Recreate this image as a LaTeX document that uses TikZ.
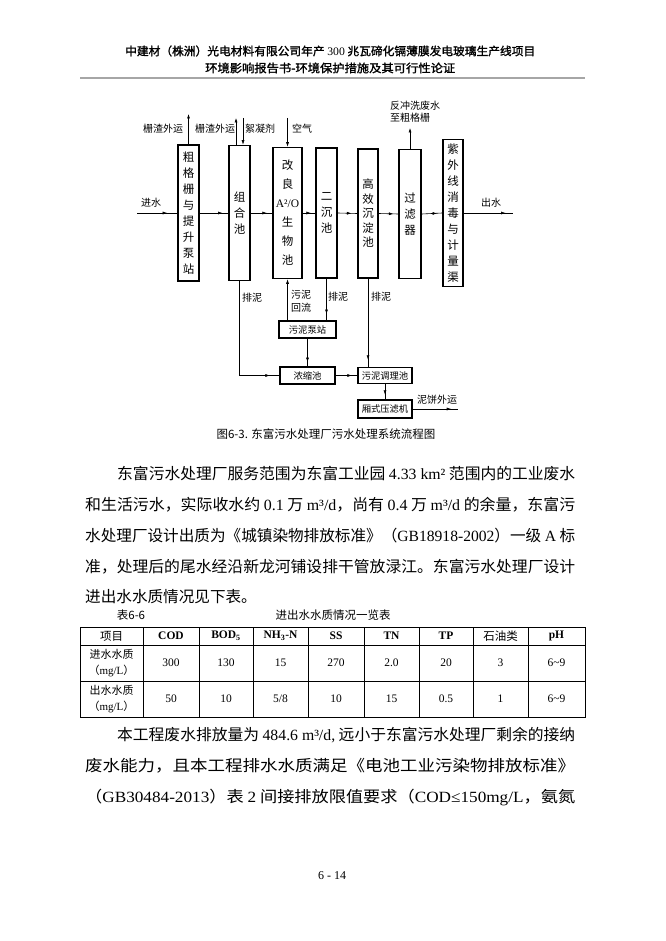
\documentclass[tikz,border=0pt]{standalone}
\usepackage{graphicx}
\usepackage{fontspec}
\setmainfont{Liberation Serif}
\newfontfamily\cjk{Noto Sans CJK SC}
\newfontfamily\cjkb{Noto Sans CJK SC}[FakeBold=1.5]
\usetikzlibrary{arrows.meta,decorations.markings}
\newsavebox\fitbox
\newcommand\fitline[2]{\sbox\fitbox{#2}\pgfmathsetmacro\fitratio{#1/\the\wd\fitbox}\scalebox{\fitratio}[1]{\usebox\fitbox}}
\newcommand\La[1]{{\rmfamily #1}}
\newcommand\bodyfont{\cjk\fontsize{15.6}{18}\selectfont}
\newcommand\dfont{\cjk\fontsize{11.5}{16}\selectfont}
\newcommand\lfont{\cjk\fontsize{10}{13}\selectfont}
\tikzset{
  procbox/.style={draw, line width=1.5pt, inner sep=0pt, align=center, font=\dfont},
  sbox/.style={draw, line width=1.4pt, inner sep=0pt, font=\cjk\fontsize{9.3}{12}\selectfont},
  conn/.style={line width=0.6pt},
  tip/.style={conn, -{Latex[length=4.5pt,width=3pt]}},
  midarrow/.style={conn, postaction={decorate}, decoration={markings, mark=at position #1 with {\arrow{Latex[length=4.5pt,width=3pt]}}}},
  midarrow/.default=0.75,
  lbl/.style={inner sep=0pt, font=\lfont, align=center},
  hdr/.style={anchor=west, inner sep=0pt, font=\cjkb\fontsize{11.5}{13}\selectfont},
  bodyline/.style={anchor=west, inner sep=0pt, font=\bodyfont},
  tcell/.style={inner sep=0pt, align=center, font=\rmfamily\fontsize{11.5}{16}\selectfont},
  tgrid/.style={line width=0.6pt},
}
\begin{document}
\begin{tikzpicture}[x=1pt,y=-1pt]
\useasboundingbox[fill=white] (0,0) rectangle (665,941);

% ---------- page header ----------
\node[hdr] (h1) at (125,51) {\fitline{410}{中建材（株洲）光电材料有限公司年产 \La{300} 兆瓦碲化镉薄膜发电玻璃生产线项目}};
\node[hdr] (h2) at (205,68) {\fitline{250}{环境影响报告书-环境保护措施及其可行性论证}};
\draw[line width=2pt, gray!70] (80,78) -- (585,78);

% ---------- flow chart: main boxes ----------
\node[procbox, minimum width=21pt, minimum height=136pt] (b1) at (188.5,213) {粗\\格\\栅\\与\\提\\升\\泵\\站};
\node[procbox, minimum width=21pt, minimum height=135pt] (b2) at (239.5,213) {组\\合\\池};
\node[procbox, minimum width=29pt, minimum height=131pt, font=\cjk\fontsize{11.5}{19}\selectfont] (b3) at (287.5,213) {改\\良\\\La{A²/O}\\生\\物\\池};
\node[procbox, minimum width=21pt, minimum height=130pt] (b4) at (326.5,213) {二\\沉\\池};
\node[procbox, minimum width=20pt, minimum height=129pt, font=\cjk\fontsize{11.5}{14.5}\selectfont] (b5) at (368,213.5) {高\\效\\沉\\淀\\池};
\node[procbox, minimum width=22pt, minimum height=129pt] (b6) at (410,214) {过\\滤\\器};
\node[procbox, minimum width=20pt, minimum height=147pt] (b7) at (453,213) {紫\\外\\线\\消\\毒\\与\\计\\量\\渠};

% main flow line
\coordinate (inw) at (137,213);
\coordinate (outw) at (513,213);
\draw[midarrow=0.75] (inw) -- (b1.west);
\draw[midarrow=0.8] (b1.east) -- (b2.west);
\draw[midarrow=0.75] (b2.east) -- (b3.west);
\draw[midarrow=0.65] (b3.east) -- (b4.west);
\draw[midarrow=0.7] (b4.east) -- (b5.west);
\draw[midarrow=0.75] (b5.east) -- (b6.west);
\draw[midarrow=0.75] (b6.east) -- (b7.west);
\draw[midarrow=0.85] (b7.east) -- (outw);
\node[lbl] (lin) at (151,203) {进水};
\node[lbl] (lout) at (491,203) {出水};

% top arrows
\coordinate (s1) at (188.5,114);
\coordinate (s2) at (236,118);
\coordinate (fl) at (243,118);
\coordinate (air) at (287.5,118);
\coordinate (bw) at (410,128);
\draw[tip] (b1.north) -- (s1);
\draw[tip] (s2 |- b2.north) -- (s2);
\draw[tip] (fl) -- (fl |- b2.north);
\draw[tip] (air) -- (b3.north);
\draw[tip] (b6.north) -- (bw);
\node[lbl] (l1) at (163,129) {栅渣外运};
\node[lbl] (l2) at (215,129) {栅渣外运};
\node[lbl] (l3) at (260,129) {絮凝剂};
\node[lbl] (l4) at (302,129) {空气};
\node[lbl, align=left, anchor=north west, font=\cjk\fontsize{10}{12}\selectfont] (l5) at (390,101) {反冲洗废水\\至粗格栅};

% ---------- sludge treatment ----------
\node[sbox, minimum width=57pt, minimum height=17pt] (pump) at (307.5,329.5) {污泥泵站};
\node[sbox, minimum width=55pt, minimum height=17pt] (thick) at (307.5,375.5) {浓缩池};
\node[sbox, minimum width=54pt, minimum height=16pt] (cond) at (385,375.5) {污泥调理池};
\node[sbox, minimum width=54pt, minimum height=18pt] (press) at (385,409) {厢式压滤机};
\coordinate (cake) at (458,409);

\draw[midarrow=0.93] (b2.south) |- (thick.west);
\draw[tip] (b3.south |- pump.north) -- (b3.south);
\draw[midarrow=0.85] (b4.south) -- (b4.south |- pump.north);
\draw[midarrow=0.92] (b5.south) -- (b5.south |- cond.north);
\draw[midarrow=0.85] (pump.south) -- (thick.north);
\draw[midarrow=0.75] (thick.east) -- (thick.east -| cond.west);
\draw[midarrow=0.7] (cond.south) -- (press.north);
\draw[midarrow=0.85] (press.east) -- (cake);

\node[lbl] (p1) at (252,298) {排泥};
\node[lbl] (p2) at (301,301) {污泥\\回流};
\node[lbl] (p3) at (338,297) {排泥};
\node[lbl] (p4) at (381,297) {排泥};
\node[lbl] (p5) at (437,400) {泥饼外运};

% caption
\node[inner sep=0pt, font=\cjk\fontsize{11.5}{13}\selectfont] (cap) at (326,434) {图6-3. 东富污水处理厂污水处理系统流程图};

% ---------- body text ----------
\node[bodyline] (t1) at (117,474) {\fitline{458}{东富污水处理厂服务范围为东富工业园 \La{4.33 km²} 范围内的工业废水}};
\node[bodyline] (t2) at (85,505) {\fitline{490}{和生活污水，实际收水约 \La{0.1} 万 \La{m³/d}，尚有 \La{0.4} 万 \La{m³/d} 的余量，东富污}};
\node[bodyline] (t3) at (85,536) {\fitline{490}{水处理厂设计出质为《城镇染物排放标准》（\La{GB18918-2002}）一级 \La{A} 标}};
\node[bodyline] (t4) at (85,567) {\fitline{490}{准，处理后的尾水经沿新龙河铺设排干管放渌江。东富污水处理厂设计}};
\node[bodyline] (t5) at (85,597) {进出水水质情况见下表。};

% ---------- table ----------
\node[inner sep=0pt, font=\cjk\fontsize{11.5}{13}\selectfont] (tno) at (131,615) {表6-6};
\node[inner sep=0pt, font=\cjk\fontsize{11.5}{13}\selectfont] (ttl) at (333,615) {进出水水质情况一览表};
\draw[line width=0.9pt] (80,627) rectangle (585,717);
\draw[tgrid] (80,645) -- (585,645);
\draw[tgrid] (80,681) -- (585,681);
\foreach \cx in {143,199,253,308,364,419,473,528} \draw[tgrid] (\cx,627) -- (\cx,717);

\node[tcell] (c11) at (111.5,636) {\cjk 项目};
\node[tcell] (c12) at (171,636) {\textbf{COD}};
\node[tcell] (c13) at (226,636) {\textbf{BOD\textsubscript{5}}};
\node[tcell] (c14) at (280.5,636) {\textbf{NH\textsubscript{3}-N}};
\node[tcell] (c15) at (336,636) {\textbf{SS}};
\node[tcell] (c16) at (391.5,636) {\textbf{TN}};
\node[tcell] (c17) at (446,636) {\textbf{TP}};
\node[tcell] (c18) at (500.5,636) {\cjk 石油类};
\node[tcell] (c19) at (556.5,636) {\textbf{pH}};

\node[tcell, font=\cjk\fontsize{11}{16}\selectfont] (c21) at (111.5,663) {进水水质\\（\La{mg/L}）};
\node[tcell] (c22) at (171,663) {300};
\node[tcell] (c23) at (226,663) {130};
\node[tcell] (c24) at (280.5,663) {15};
\node[tcell] (c25) at (336,663) {270};
\node[tcell] (c26) at (391.5,663) {2.0};
\node[tcell] (c27) at (446,663) {20};
\node[tcell] (c28) at (500.5,663) {3};
\node[tcell] (c29) at (556.5,663) {6\textasciitilde 9};

\node[tcell, font=\cjk\fontsize{11}{16}\selectfont] (c31) at (111.5,699) {出水水质\\（\La{mg/L}）};
\node[tcell] (c32) at (171,699) {50};
\node[tcell] (c33) at (226,699) {10};
\node[tcell] (c34) at (280.5,699) {5/8};
\node[tcell] (c35) at (336,699) {10};
\node[tcell] (c36) at (391.5,699) {15};
\node[tcell] (c37) at (446,699) {0.5};
\node[tcell] (c38) at (500.5,699) {1};
\node[tcell] (c39) at (556.5,699) {6\textasciitilde 9};

% ---------- second paragraph ----------
\node[bodyline] (u1) at (117,735) {\fitline{458}{本工程废水排放量为 \La{484.6 m³/d,} 远小于东富污水处理厂剩余的接纳}};
\node[bodyline] (u2) at (85,766) {\fitline{490}{废水能力，且本工程排水水质满足《电池工业污染物排放标准》}};
\node[bodyline] (u3) at (85,797) {\fitline{490}{（\La{GB30484-2013}）表 \La{2} 间接排放限值要求（\La{COD≤150mg/L}，氨氮}};

% page number
\node[inner sep=0pt, font=\rmfamily\fontsize{12}{14}\selectfont] (pg) at (332,876) {6 - 14};
\end{tikzpicture}
\end{document}
